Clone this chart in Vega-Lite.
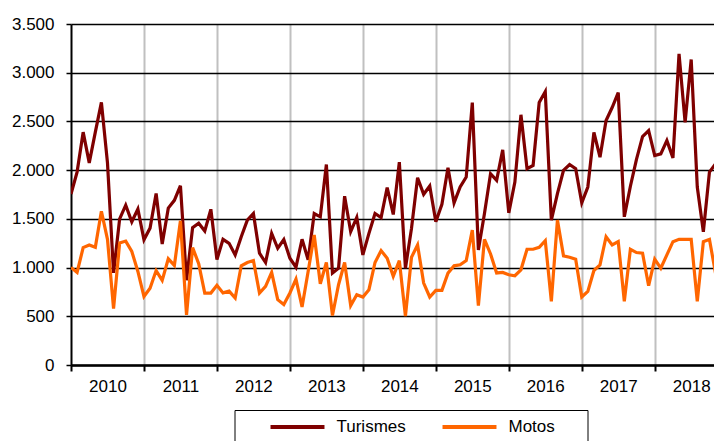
{
  "$schema": "https://vega.github.io/schema/vega-lite/v6.json",
  "width": 643,
  "height": 341,
  "autosize": {"type": "none"},
  "padding": {"left": 71, "top": 24, "right": 0, "bottom": 76},
  "background": "white",
  "config": {
    "view": {"stroke": null},
    "font": "Liberation Sans",
    "axis": {"labelFont": "Liberation Sans", "labelFontSize": 17, "labelColor": "black"},
    "legend": {"labelFont": "Liberation Sans", "titleFont": "Liberation Sans"}
  },
  "data": {"values": [
    {"t":0,"Turismes":1755,"Motos":1000},{"t":1,"Turismes":1980,"Motos":950},{"t":2,"Turismes":2390,"Motos":1205},{"t":3,"Turismes":2075,"Motos":1232},
    {"t":4,"Turismes":2390,"Motos":1208},{"t":5,"Turismes":2695,"Motos":1578},{"t":6,"Turismes":2075,"Motos":1290},{"t":7,"Turismes":945,"Motos":580},
    {"t":8,"Turismes":1500,"Motos":1253},{"t":9,"Turismes":1640,"Motos":1272},{"t":10,"Turismes":1470,"Motos":1165},{"t":11,"Turismes":1600,"Motos":960},
    {"t":12,"Turismes":1285,"Motos":703},{"t":13,"Turismes":1405,"Motos":788},{"t":14,"Turismes":1760,"Motos":969},{"t":15,"Turismes":1242,"Motos":868},
    {"t":16,"Turismes":1610,"Motos":1090},{"t":17,"Turismes":1690,"Motos":1022},{"t":18,"Turismes":1840,"Motos":1480},{"t":19,"Turismes":870,"Motos":515},
    {"t":20,"Turismes":1410,"Motos":1205},{"t":21,"Turismes":1455,"Motos":1040},{"t":22,"Turismes":1375,"Motos":738},{"t":23,"Turismes":1598,"Motos":738},
    {"t":24,"Turismes":1082,"Motos":818},{"t":25,"Turismes":1290,"Motos":740},{"t":26,"Turismes":1249,"Motos":758},{"t":27,"Turismes":1130,"Motos":688},
    {"t":28,"Turismes":1317,"Motos":1018},{"t":29,"Turismes":1487,"Motos":1052},{"t":30,"Turismes":1555,"Motos":1072},{"t":31,"Turismes":1147,"Motos":739},
    {"t":32,"Turismes":1052,"Motos":807},{"t":33,"Turismes":1351,"Motos":950},{"t":34,"Turismes":1198,"Motos":671},{"t":35,"Turismes":1287,"Motos":620},
    {"t":36,"Turismes":1096,"Motos":739},{"t":37,"Turismes":1004,"Motos":882},{"t":38,"Turismes":1290,"Motos":595},{"t":39,"Turismes":1079,"Motos":960},
    {"t":40,"Turismes":1555,"Motos":1334},{"t":41,"Turismes":1521,"Motos":834},{"t":42,"Turismes":2058,"Motos":1052},{"t":43,"Turismes":943,"Motos":508},
    {"t":44,"Turismes":994,"Motos":824},{"t":45,"Turismes":1732,"Motos":1052},{"t":46,"Turismes":1368,"Motos":610},{"t":47,"Turismes":1514,"Motos":722},
    {"t":48,"Turismes":1130,"Motos":698},{"t":49,"Turismes":1351,"Motos":773},{"t":50,"Turismes":1555,"Motos":1052},{"t":51,"Turismes":1514,"Motos":1174},
    {"t":52,"Turismes":1822,"Motos":1096},{"t":53,"Turismes":1545,"Motos":910},{"t":54,"Turismes":2082,"Motos":1072},{"t":55,"Turismes":994,"Motos":501},
    {"t":56,"Turismes":1402,"Motos":1106},{"t":57,"Turismes":1922,"Motos":1232},{"t":58,"Turismes":1752,"Motos":841},{"t":59,"Turismes":1837,"Motos":698},
    {"t":60,"Turismes":1470,"Motos":766},{"t":61,"Turismes":1650,"Motos":766},{"t":62,"Turismes":2024,"Motos":943},{"t":63,"Turismes":1664,"Motos":1018},
    {"t":64,"Turismes":1827,"Motos":1028},{"t":65,"Turismes":1929,"Motos":1072},{"t":66,"Turismes":2694,"Motos":1385},{"t":67,"Turismes":1181,"Motos":610},
    {"t":68,"Turismes":1555,"Motos":1290},{"t":69,"Turismes":1963,"Motos":1140},{"t":70,"Turismes":1895,"Motos":945},{"t":71,"Turismes":2208,"Motos":950},
    {"t":72,"Turismes":1562,"Motos":926},{"t":73,"Turismes":1878,"Motos":916},{"t":74,"Turismes":2568,"Motos":977},{"t":75,"Turismes":2014,"Motos":1188},
    {"t":76,"Turismes":2048,"Motos":1188},{"t":77,"Turismes":2694,"Motos":1208},{"t":78,"Turismes":2806,"Motos":1276},{"t":79,"Turismes":1487,"Motos":654},
    {"t":80,"Turismes":1759,"Motos":1487},{"t":81,"Turismes":1997,"Motos":1120},{"t":82,"Turismes":2058,"Motos":1106},{"t":83,"Turismes":2014,"Motos":1086},
    {"t":84,"Turismes":1664,"Motos":698},{"t":85,"Turismes":1827,"Motos":756},{"t":86,"Turismes":2388,"Motos":970},{"t":87,"Turismes":2133,"Motos":1028},
    {"t":88,"Turismes":2510,"Motos":1317},{"t":89,"Turismes":2643,"Motos":1232},{"t":90,"Turismes":2796,"Motos":1266},{"t":91,"Turismes":1521,"Motos":654},
    {"t":92,"Turismes":1835,"Motos":1188},{"t":93,"Turismes":2110,"Motos":1154},{"t":94,"Turismes":2344,"Motos":1147},{"t":95,"Turismes":2405,"Motos":814},
    {"t":96,"Turismes":2150,"Motos":1086},{"t":97,"Turismes":2167,"Motos":994},{"t":98,"Turismes":2303,"Motos":1130},{"t":99,"Turismes":2126,"Motos":1266},
    {"t":100,"Turismes":3194,"Motos":1290},{"t":101,"Turismes":2490,"Motos":1290},{"t":102,"Turismes":3136,"Motos":1290},{"t":103,"Turismes":1827,"Motos":654},
    {"t":104,"Turismes":1368,"Motos":1266},{"t":105,"Turismes":1980,"Motos":1290},{"t":106,"Turismes":2065,"Motos":943}
  ]},
  "encoding": {
    "x": {
      "field": "t",
      "type": "quantitative",
      "scale": {"domain": [0, 105.75], "nice": false, "zero": false},
      "axis": {
        "title": null,
        "values": [0,6,12,18,24,30,36,42,48,54,60,66,72,78,84,90,96,102],
        "labelExpr": "datum.value % 12 === 6 ? '' + (2010 + floor(datum.value / 12)) : ''",
        "tickOpacity": {"condition": {"test": "datum.value % 12 === 0", "value": 1}, "value": 0},
        "gridOpacity": {"condition": {"test": "datum.value % 12 === 0 && datum.value > 0", "value": 1}, "value": 0},
        "grid": true,
        "gridColor": "#c0c0c0",
        "gridWidth": 2,
        "tickColor": "black",
        "tickWidth": 2,
        "tickSize": 6,
        "domainColor": "black",
        "domainWidth": 2.5,
        "labelPadding": 7,
        "labelFlush": false,
        "labelOverlap": false,
        "labelBound": false
      }
    },
    "y": {
      "type": "quantitative",
      "scale": {"domain": [0, 3500], "nice": false},
      "axis": {
        "title": null,
        "values": [0,500,1000,1500,2000,2500,3000,3500],
        "labelExpr": "replace(format(datum.value, ','), ',', '.')",
        "grid": true,
        "gridColor": "black",
        "gridWidth": 1.3,
        "tickColor": "black",
        "tickSize": 5,
        "tickWidth": 1.5,
        "domainColor": "black",
        "domainWidth": 2,
        "labelPadding": 12
      }
    }
  },
  "layer": [
    {
      "mark": {"type": "line", "clip": true, "strokeWidth": 3.2},
      "encoding": {
        "y": {"field": "Turismes"},
        "color": {
          "datum": "Turismes",
          "type": "nominal",
          "scale": {"domain": ["Turismes", "Motos"], "range": ["#7f0000", "#ff6600"]},
          "legend": {
            "orient": "none",
            "legendX": 163.5,
            "legendY": 386,
            "direction": "horizontal",
            "title": "\u00a0",
            "titleOrient": "left",
            "titlePadding": 46,
            "titleFontSize": 17,
            "padding": 8,
            "strokeColor": "black",
            "fillColor": "white",
            "symbolType": "M-4,0H4",
            "symbolSize": 182,
            "symbolStrokeWidth": 4,
            "labelFontSize": 17,
            "labelColor": "black",
            "labelOffset": 30,
            "columnPadding": 28,
            "labelExpr": "datum.label == 'Motos' ? 'Motos\u2800\u2800' : datum.label"
          }
        }
      }
    },
    {
      "mark": {"type": "line", "clip": true, "strokeWidth": 3.2},
      "encoding": {
        "y": {"field": "Motos"},
        "color": {"datum": "Motos", "type": "nominal"}
      }
    }
  ]
}
